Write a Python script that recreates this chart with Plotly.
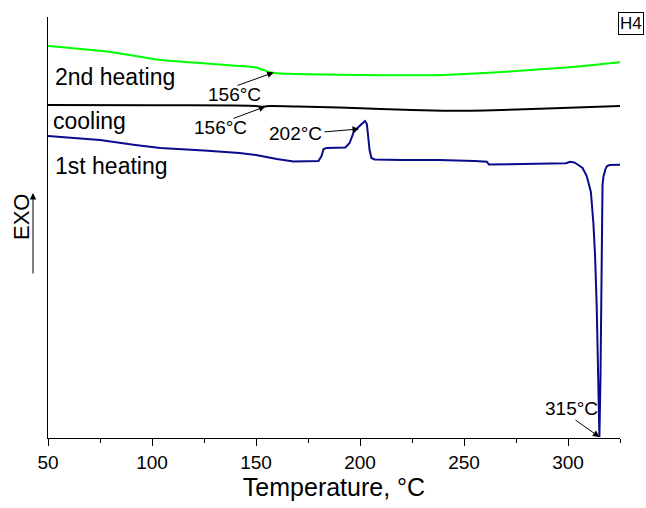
import plotly.graph_objects as go

# ---------------- data (temperature in °C, heat flow in arbitrary units) ----------------
heat2_T = [50, 80, 104, 120, 142, 150, 153, 155, 157, 160, 175, 190, 210, 230, 240, 260, 287, 305, 325]
heat2_Q = [392, 386, 378, 375.5, 372, 370.5, 368.5, 367, 365.5, 364.8, 363.8, 363.2, 362.8, 362.7, 363, 365, 368.7, 371.5, 375.7]

cool_T = [50, 100, 140, 150, 153, 155, 157, 170, 190, 210, 240, 260, 290, 325]
cool_Q = [333, 332.7, 332.5, 332, 331.2, 331.7, 332, 331.5, 330.5, 329, 327.3, 327.5, 329.5, 332]

heat1_T = [50, 75, 92, 104, 125, 142, 150, 156, 160, 168, 175, 180, 181.5, 182.5, 184, 190, 193, 195, 197,
           199, 201, 202.4, 203.3, 204, 204.6, 205.5, 207, 220, 238, 255, 261, 262, 275, 290, 299, 301, 303,
           305, 307, 309, 311, 312.2, 313, 313.8, 314.6, 315.1, 315.6, 315.9, 316.2, 316.6, 317, 318, 318.8,
           320, 325]
heat1_Q = [302, 298, 293, 290, 287.5, 285, 283, 280.5, 279, 276.5, 276.5, 277, 282, 289, 290, 290, 290.5, 295, 306,
           310.5, 314, 317, 314, 303, 288, 280, 278.5, 278, 278, 277, 276.2, 273.5, 274, 274.5, 274.7, 276.3, 275.5,
           273, 270, 262, 246, 215, 183, 132, 38, 1, 58, 138, 231, 253, 261, 269, 272,
           273, 273.3]

peak_labels = ["156°C", "156°C", "202°C", "315°C"]
curve_labels = ["2nd heating", "cooling", "1st heating"]
x_ticks = [50, 100, 150, 200, 250, 300]

# ---------------- layout geometry ----------------
W, H = 646, 508
L, R, T, B = 48, 26, 17, 70
XR = [50, 325]
YR = [0, 421]

def tx(px):  # pixel x -> temperature
    return XR[0] + (px - L) / (W - L - R) * (XR[1] - XR[0])

def qy(py):  # pixel y -> heat flow
    return YR[0] + (H - B - py) / (H - T - B) * (YR[1] - YR[0])

def paper_x(px):
    return (px - L) / (W - L - R)

def paper_y(py):
    return (H - B - py) / (H - T - B)

FONT = "Arial, Liberation Sans, sans-serif"

fig = go.Figure()
fig.add_trace(go.Scatter(x=heat2_T, y=heat2_Q, mode="lines", line=dict(color="#00ff00", width=2, shape="spline", smoothing=0.6),
                         name="2nd heating", hoverinfo="skip"))
fig.add_trace(go.Scatter(x=cool_T, y=cool_Q, mode="lines", line=dict(color="black", width=2, shape="spline", smoothing=0.6),
                         name="cooling", hoverinfo="skip"))
fig.add_trace(go.Scatter(x=heat1_T, y=heat1_Q, mode="lines", line=dict(color="#0a0a8c", width=2),
                         name="1st heating", hoverinfo="skip"))

ann = []
# curve labels
for lab, (px, py) in zip(curve_labels, [(53, 77), (51, 121), (53, 166)]):
    ann.append(dict(x=tx(px), y=qy(py), text=lab, showarrow=False, xanchor="left", yanchor="middle",
                    font=dict(family=FONT, size=23, color="black")))

# peak labels (text) and arrows (tail -> tip)
label_pos = [(234, 94), (220, 127), (295, 133), (571, 408)]
arrow_tail = [(236, 86), (232, 119), (323, 132), (574, 419)]
arrow_tip_T = [158.5, 154.5, 199.5, 315.1]
arrow_tip_Q = [qy(72.5), qy(106.5), qy(129), qy(437)]
for lab, (px, py), (tpx, tpy), tT, tQ in zip(peak_labels, label_pos, arrow_tail, arrow_tip_T, arrow_tip_Q):
    ann.append(dict(x=tx(px), y=qy(py), text=lab, showarrow=False, xanchor="center", yanchor="middle",
                    font=dict(family=FONT, size=19, color="black")))
    ann.append(dict(x=tT, y=tQ, ax=tx(tpx), ay=qy(tpy), axref="x", ayref="y", text="", showarrow=True,
                    arrowhead=2, arrowsize=1.3, arrowwidth=1, arrowcolor="black", standoff=0, startstandoff=0))

# EXO label with arrow
ann.append(dict(x=paper_x(21), y=paper_y(217), xref="paper", yref="paper", text="EXO", textangle=-90,
                xanchor="center", yanchor="middle",
                showarrow=False, font=dict(family=FONT, size=22, color="black")))
ann.append(dict(x=paper_x(33), y=paper_y(193), xref="x domain", yref="y domain",
                ax=paper_x(33), ay=paper_y(275), axref="x domain", ayref="y domain", text="",
                showarrow=True, arrowhead=2, arrowsize=1.3, arrowwidth=1, arrowcolor="black",
                standoff=0, startstandoff=0))

# H4 box
ann.append(dict(x=paper_x(631), y=paper_y(23), xref="paper", yref="paper", text="H4", showarrow=False,
                xanchor="center", yanchor="middle",
                bordercolor="black", borderwidth=1, borderpad=1, bgcolor="white",
                font=dict(family=FONT, size=17, color="black")))

fig.update_layout(
    width=W, height=H,
    margin=dict(l=L, r=R, t=T, b=B, pad=0),
    paper_bgcolor="white", plot_bgcolor="white",
    showlegend=False,
    annotations=ann,
    xaxis=dict(range=XR, tickvals=x_ticks, ticks="outside", ticklen=7, tickwidth=1, tickcolor="black",
               showline=True, linecolor="black", linewidth=1, showgrid=False, zeroline=False,
               tickfont=dict(family=FONT, size=19, color="black"),
               minor=dict(dtick=25, tick0=50, ticks="outside", ticklen=4, tickcolor="black", showgrid=False),
               title=dict(text="Temperature, °C", font=dict(family=FONT, size=25, color="black"), standoff=6)),
    yaxis=dict(range=YR, showline=True, linecolor="black", linewidth=1, showgrid=False, zeroline=False,
               showticklabels=False, ticks=""),
)

fig.write_html("out.html")
